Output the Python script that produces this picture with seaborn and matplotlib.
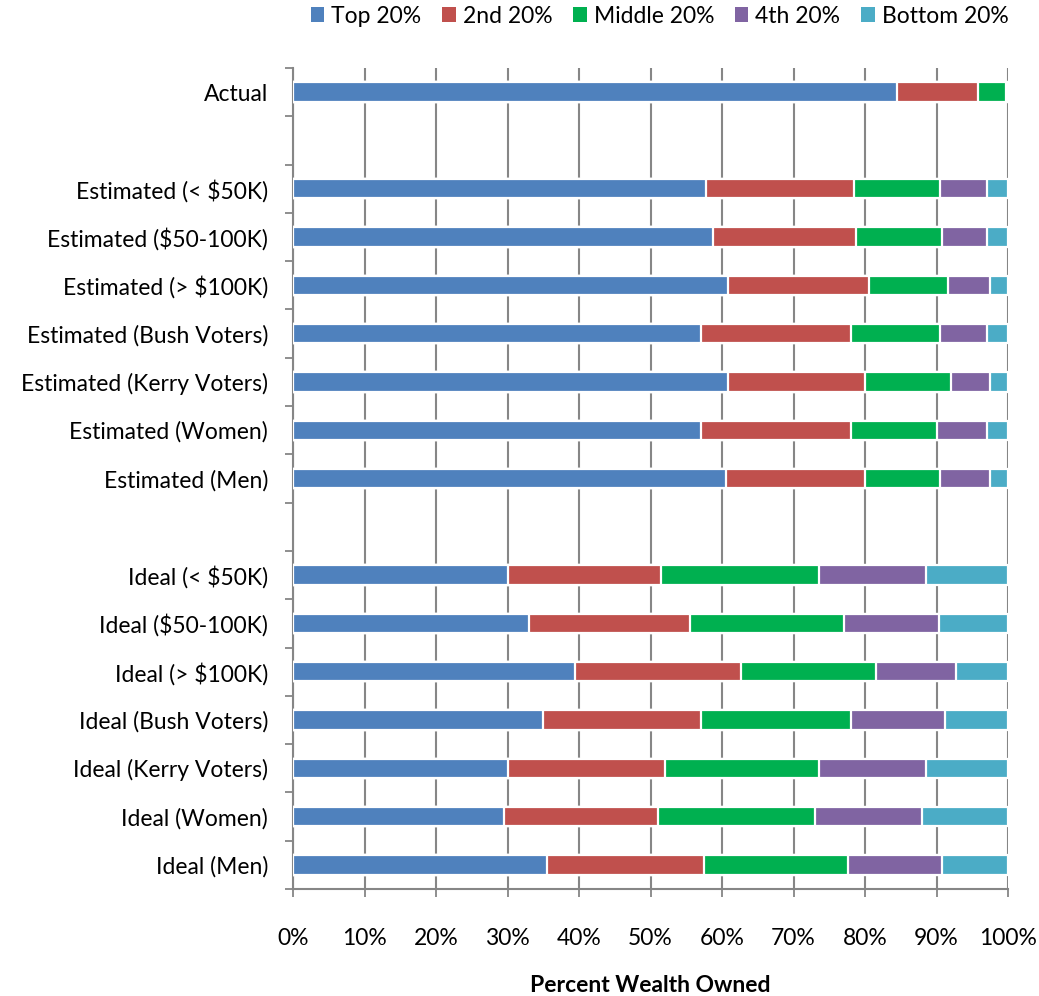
import matplotlib
matplotlib.use("Agg")
import matplotlib.pyplot as plt
import matplotlib.ticker as mticker
from matplotlib.patches import Patch
import seaborn as sns
import pandas as pd
import numpy as np

groups = ["Actual", "_gap1",
          "Estimated (< $50K)", "Estimated ($50-100K)", "Estimated (> $100K)",
          "Estimated (Bush Voters)", "Estimated (Kerry Voters)", "Estimated (Women)",
          "Estimated (Men)", "_gap2",
          "Ideal (< $50K)", "Ideal ($50-100K)", "Ideal (> $100K)",
          "Ideal (Bush Voters)", "Ideal (Kerry Voters)", "Ideal (Women)", "Ideal (Men)"]

data_groups = [g for g in groups if not g.startswith("_gap")]

top20    = [84.5, 57.8, 58.8, 60.9, 57.0, 60.9, 57.0, 60.5, 30.0, 33.0, 39.5, 35.0, 30.0, 29.5, 35.5]
second20 = [11.3, 20.7, 20.0, 19.7, 21.0, 19.1, 21.0, 19.5, 21.5, 22.5, 23.1, 22.0, 22.0, 21.5, 22.0]
middle20 = [3.9, 12.0, 11.9, 11.0, 12.5, 12.0, 12.0, 10.5, 22.0, 21.6, 19.0, 21.1, 21.5, 22.0, 20.1]
fourth20 = [0.2, 6.6, 6.3, 5.9, 6.6, 5.5, 7.1, 7.0, 15.0, 13.2, 11.1, 13.1, 15.1, 15.0, 13.1]
bottom20 = [0.1, 2.9, 3.0, 2.5, 2.9, 2.5, 2.9, 2.5, 11.5, 9.7, 7.3, 8.8, 11.4, 12.0, 9.3]

series_names = ["Top 20%", "2nd 20%", "Middle 20%", "4th 20%", "Bottom 20%"]
series_vals = [top20, second20, middle20, fourth20, bottom20]
colors = ["#4F81BD", "#C0504D", "#00B050", "#8064A2", "#4BACC6"]

df = pd.DataFrame({"group": data_groups})
for n, v in zip(series_names, series_vals):
    df[n] = v
cum = df[series_names].cumsum(axis=1)

plt.rcParams['font.family'] = ['Lato', 'DejaVu Sans']
FS = 16.5
fig = plt.figure(figsize=(10.39, 9.96), dpi=100)
ax = fig.add_axes([293/1039, 1-889/996, (1008-293)/1039, (889-68)/996])

# draw cumulative bars from largest to smallest so segments appear stacked
for i in range(len(series_names) - 1, -1, -1):
    d = pd.DataFrame({"group": df["group"], "val": cum[series_names[i]]})
    sns.barplot(data=d, x="val", y="group", order=groups, color=colors[i],
                width=0.4, edgecolor="white", linewidth=1.6, ax=ax,
                saturation=1, zorder=3)

ax.set_xlim(0, 100)
ax.set_ylim(len(groups) - 0.5, -0.5)
ax.xaxis.set_major_locator(mticker.MultipleLocator(10))
ax.xaxis.set_major_formatter(mticker.FuncFormatter(lambda v, p: f"{int(v)}%"))
ax.grid(axis="x", color="#868686", linewidth=1.5, zorder=0)
ax.set_axisbelow(True)

labels = ["" if g.startswith("_gap") else g for g in groups]
ax.set_yticks(range(len(groups)))
ax.set_yticklabels(labels, fontsize=FS)
ax.tick_params(axis="y", length=0, pad=18)
ax.set_yticks(np.arange(-0.5, len(groups), 1), minor=True)
ax.tick_params(axis="y", which="minor", length=6, width=1.3, color="#868686", direction="out")
ax.tick_params(axis="x", length=6, width=1.3, color="#868686", direction="out",
               labelsize=FS, pad=22)

for s in ["top", "right"]:
    ax.spines[s].set_visible(False)
for s in ["left", "bottom"]:
    ax.spines[s].set_color("#868686")
    ax.spines[s].set_linewidth(1.5)

ax.set_ylabel("")
ax.set_xlabel("")
fig.text(650/1039, 1-985/996, "Percent Wealth Owned", fontsize=FS, fontweight="bold",
         ha="center", va="center")

handles = [Patch(facecolor=c, edgecolor="none") for c in colors]
fig.legend(handles, series_names, loc="upper right", bbox_to_anchor=(1022/1039, 1.008),
           ncol=5, frameon=False, fontsize=FS, handlelength=0.6, handleheight=0.6,
           columnspacing=0.9, handletextpad=0.3, borderaxespad=0.2)

fig.savefig("out.png", dpi=100)
